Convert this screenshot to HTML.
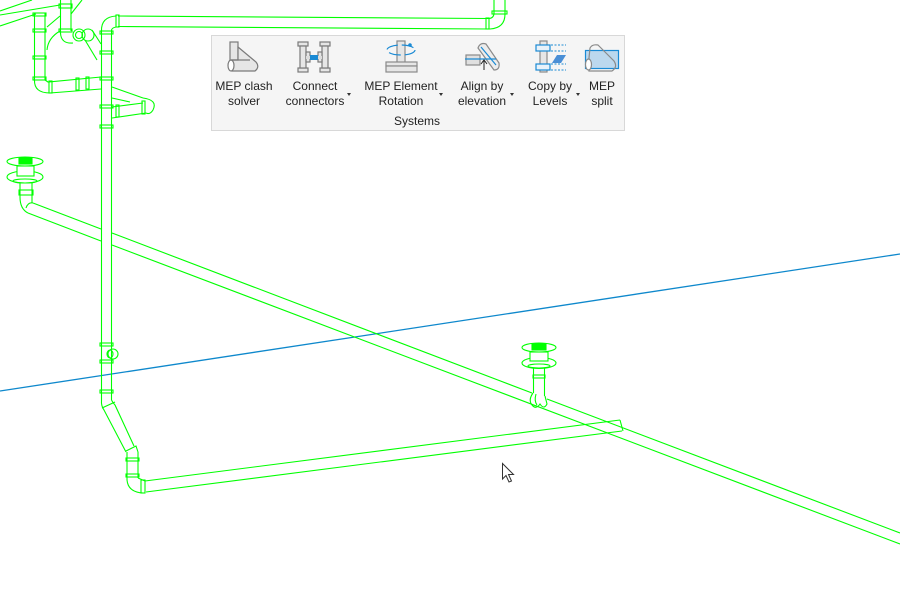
<!DOCTYPE html>
<html><head><meta charset="utf-8">
<style>
html,body{margin:0;padding:0;background:#fff;}
body{width:900px;height:600px;position:relative;overflow:hidden;font-family:"Liberation Sans",sans-serif;}
svg{position:absolute;left:0;top:0;}
.panel{position:absolute;left:211px;top:35px;width:412px;height:94px;background:#f5f5f5;border:1px solid #d8d8d8;}
.lbl{position:absolute;font-size:12px;line-height:15px;color:#222;text-align:center;white-space:nowrap;}
.arr{position:absolute;width:0;height:0;border-left:2.5px solid transparent;border-right:2.5px solid transparent;border-top:3px solid #333;}
</style></head><body>
<svg width="900" height="600" viewBox="0 0 900 600">
<g fill="none" stroke="#00ff00" stroke-width="1.1">
<!-- blue line -->
<line x1="0" y1="391" x2="900" y2="254" stroke="#0e88cc" stroke-width="1.3"/>
<!-- long diagonal pipe -->
<line x1="33" y1="203" x2="101" y2="229"/>
<line x1="112" y1="233" x2="532" y2="393"/>
<line x1="547" y1="399" x2="900" y2="533"/>
<line x1="28" y1="213" x2="101" y2="241"/>
<line x1="112" y1="245" x2="900" y2="544"/>
<!-- bottom horizontal pipe -->
<line x1="145" y1="481" x2="620" y2="420"/>
<line x1="146" y1="492" x2="622" y2="431"/>
<line x1="620" y1="420" x2="623" y2="431"/>
<!-- main vertical -->
<line x1="101.5" y1="31" x2="101.5" y2="400"/>
<line x1="111.5" y1="31" x2="111.5" y2="400"/>
<rect x="100" y="31" width="13" height="3"/>
<rect x="100" y="51" width="13" height="3"/>
<rect x="100" y="77" width="13" height="3"/>
<rect x="100" y="105" width="13" height="3"/>
<rect x="100" y="125" width="13" height="3"/>
<rect x="100" y="343" width="13" height="3"/>
<rect x="100" y="360" width="13" height="3"/>
<rect x="100" y="390" width="13" height="3"/>
<circle cx="113" cy="354" r="5"/>
<ellipse cx="110" cy="354" rx="3" ry="4"/>
<!-- bottom elbow/diagonal -->
<path d="M101.5,400 Q101,406 104,410 L126,452"/>
<path d="M111.5,400 Q113,403 115,405 L134,446"/>
<path d="M102,408 L115,402"/>
<path d="M126,451 L136,446 L138,452"/>
<line x1="127" y1="452" x2="127" y2="480"/>
<line x1="138" y1="452" x2="138" y2="478"/>
<rect x="126" y="458" width="13" height="3"/>
<rect x="126" y="474" width="13" height="3"/>
<path d="M127,480 Q128,492 143,493"/>
<path d="M138,478 L145,481"/>
<rect x="141" y="480" width="4" height="13"/>
<!-- top horizontal pipe -->
<line x1="118" y1="16" x2="489" y2="18.5"/>
<line x1="118" y1="26.5" x2="490" y2="29"/>
<rect x="116" y="15" width="3" height="12"/>
<path d="M116,16 Q101,17 101.5,31"/>
<path d="M116,27 Q111,28 111.5,31"/>
<rect x="486" y="18" width="3" height="11"/>
<path d="M489,18.5 Q494,18 494,13 L494,0"/>
<path d="M490,29 Q505,28 505,14 L505,0"/>
<rect x="492" y="11" width="15" height="3"/>
<!-- top-left network -->
<line x1="0" y1="11" x2="32" y2="0"/>
<line x1="0" y1="15" x2="60" y2="5"/>
<line x1="0" y1="26" x2="36" y2="14"/>
<line x1="47" y1="27" x2="60" y2="16"/>
<line x1="82" y1="0" x2="71" y2="14"/>
<path d="M60,31 Q48,38 47,50"/>
<line x1="34.5" y1="13" x2="34.5" y2="80"/>
<line x1="45" y1="13" x2="45" y2="80"/>
<rect x="33" y="13" width="13" height="3"/>
<rect x="33" y="29" width="13" height="3"/>
<rect x="33" y="56" width="13" height="3"/>
<rect x="33" y="77" width="13" height="3"/>
<path d="M34.5,80 Q34,93 50,93 L101,89"/>
<path d="M45,80 L48,82 L101,77"/>
<rect x="49" y="81" width="3" height="12"/>
<rect x="76" y="78" width="3" height="12"/>
<rect x="86" y="77" width="3" height="12"/>
<line x1="60.5" y1="0" x2="60.5" y2="33"/>
<line x1="71" y1="0" x2="71" y2="31"/>
<rect x="59" y="4" width="13" height="4"/>
<rect x="59" y="29" width="13" height="3"/>
<path d="M60.5,33 Q61,44 73,43"/>
<circle cx="79" cy="35" r="6"/>
<circle cx="88" cy="35" r="6"/>
<circle cx="79" cy="35" r="3.5"/>
<line x1="85" y1="40" x2="97" y2="60"/>
<line x1="92" y1="30" x2="101" y2="44"/>
<line x1="112" y1="87" x2="143" y2="98"/>
<line x1="112" y1="98" x2="130" y2="102"/>
<line x1="112" y1="107" x2="143" y2="103"/>
<line x1="112" y1="118" x2="146" y2="113"/>
<path d="M143,98 Q158,100 153,110 Q150,115 146,113"/>
<rect x="116" y="105" width="3" height="12"/>
<rect x="142" y="101" width="3" height="13"/>
<!-- drain 1 -->
<ellipse cx="25" cy="161.5" rx="18" ry="4.5"/>
<rect x="19" y="158" width="13" height="6" fill="#00ff00"/>
<ellipse cx="25" cy="177" rx="18" ry="6"/>
<rect x="17" y="166" width="17" height="10" fill="#fff"/>
<ellipse cx="25" cy="181" rx="12" ry="2"/>
<line x1="20" y1="183" x2="20" y2="197"/>
<line x1="32" y1="183" x2="32" y2="203"/>
<rect x="19" y="190" width="14" height="5"/>
<path d="M20,197 Q20,209 28,213"/>
<path d="M26,208 Q28,202 33,203"/>
<!-- drain 2 -->
<ellipse cx="539" cy="347.5" rx="17" ry="4.5"/>
<rect x="532" y="344" width="14" height="6" fill="#00ff00"/>
<ellipse cx="539" cy="363" rx="17" ry="5.5"/>
<rect x="530" y="352" width="18" height="9" fill="#fff"/>
<ellipse cx="539" cy="366" rx="11" ry="2"/>
<line x1="533.5" y1="368" x2="533.5" y2="393"/>
<line x1="544.5" y1="368" x2="544.5" y2="396"/>
<rect x="533" y="375" width="12" height="3"/>
<path d="M533,393 Q528,400 532,405 Q536,410 540,404 Q544,410 547,404 L545,396"/>
<path d="M536,394 Q534,401 537,405"/>
</g>
<!-- cursor -->
<polygon points="502.5,463.5 502.5,479 506,475.5 509,482 511.5,481 508.5,474.5 513.5,474.5" fill="#fff" stroke="#333" stroke-width="1"/>
</svg>

<div class="panel"></div>
<svg width="900" height="600" viewBox="0 0 900 600">
<!-- MEP clash icon -->
<g stroke="#7a7a7a" stroke-width="1.2" fill="#e6e6e6">
<rect x="230" y="42" width="8" height="19"/>
<path d="M238,47 L256,62 Q260,67 255,71 L232,71 L232,60 L238,60 Z"/>
<ellipse cx="231" cy="65.5" rx="3" ry="5.5" fill="#fff"/>
<line x1="231" y1="60" x2="250" y2="60"/>
</g>
<!-- Connect connectors -->
<g stroke="#7a7a7a" stroke-width="1.2" fill="#e6e6e6">
<rect x="298" y="42" width="10" height="4"/>
<rect x="298" y="68" width="10" height="4"/>
<rect x="320" y="42" width="10" height="4"/>
<rect x="320" y="68" width="10" height="4"/>
<rect x="300" y="46" width="6" height="22"/>
<rect x="322" y="46" width="6" height="22"/>
<rect x="306" y="52" width="4" height="10"/>
<rect x="318" y="52" width="4" height="10"/>
<rect x="306" y="56" width="16" height="3" fill="#dcdcdc" stroke="none"/>
</g>
<rect x="310" y="55" width="8" height="5" fill="#1a8ad4"/>
<!-- Rotation -->
<g stroke="#8a8a8a" stroke-width="1.2" fill="#e6e6e6">
<rect x="397" y="41" width="8" height="22"/>
<rect x="386" y="62" width="31" height="4"/>
<rect x="386" y="66" width="31" height="6"/>
</g>
<ellipse cx="401" cy="50" rx="14" ry="5" fill="none" stroke="#1a8ad4" stroke-width="1.2" stroke-dasharray="12 4"/>
<circle cx="410" cy="45" r="1.8" fill="#1a8ad4"/>
<!-- Align by elevation -->
<g stroke="#8a8a8a" stroke-width="1.2" fill="#ececec">
<path d="M478,48 Q480,42 486,44 L499,63 Q500,70 494,70 Z"/>
<rect x="466" y="55" width="14" height="10" fill="#e0e0e0"/>
</g>
<line x1="465" y1="59" x2="496" y2="59" stroke="#1a8ad4" stroke-width="1.2"/>
<line x1="481" y1="47" x2="496" y2="65" stroke="#1a8ad4" stroke-width="1.2"/>
<path d="M484,70 L484,61 M481,64 L484,60 L487,64" stroke="#222" stroke-width="1" fill="none"/>
<!-- Copy by Levels -->
<g stroke="#8a8a8a" stroke-width="1.2" fill="#e6e6e6">
<rect x="540" y="41" width="7" height="31"/>
</g>
<rect x="536" y="45" width="14" height="6" fill="#e8f2fa" stroke="#1a8ad4" stroke-width="1.2"/>
<rect x="536" y="64" width="14" height="6" fill="#e8f2fa" stroke="#1a8ad4" stroke-width="1.2"/>
<g stroke="#1a8ad4" stroke-width="1" stroke-dasharray="2 1.5">
<line x1="551" y1="45" x2="566" y2="45"/><line x1="551" y1="51" x2="566" y2="51"/>
<line x1="551" y1="64" x2="566" y2="64"/><line x1="551" y1="70" x2="566" y2="70"/>
</g>
<polygon points="552,63 557,55 566,55 561,63" fill="#4a8fd6"/>
<!-- MEP split -->
<rect x="585.5" y="50.5" width="33" height="18" fill="#bcd8ee" stroke="#1a8ad4" stroke-width="1.2"/>
<g stroke="#8a8a8a" stroke-width="1.2" fill="#e8e8e8">
<path d="M590,48 Q592,44 598,45 L614,61 Q618,67 612,71 L589,71 L589,58 Z" fill="none"/>
<ellipse cx="588.5" cy="64.5" rx="3" ry="5.5" fill="#fff"/>
</g>
</svg>

<div class="lbl" style="left:204px;top:79px;width:80px;">MEP clash<br>solver</div>
<div class="lbl" style="left:275px;top:79px;width:80px;">Connect<br>connectors</div>
<div class="arr" style="left:347px;top:93px;"></div>
<div class="lbl" style="left:361px;top:79px;width:80px;">MEP Element<br>Rotation</div>
<div class="arr" style="left:439px;top:93px;"></div>
<div class="lbl" style="left:442px;top:79px;width:80px;">Align by<br>elevation</div>
<div class="arr" style="left:510px;top:93px;"></div>
<div class="lbl" style="left:510px;top:79px;width:80px;">Copy by<br>Levels</div>
<div class="arr" style="left:576px;top:93px;"></div>
<div class="lbl" style="left:572px;top:79px;width:60px;">MEP<br>split</div>
<div class="lbl" style="left:377px;top:114px;width:80px;">Systems</div>
</body></html>
